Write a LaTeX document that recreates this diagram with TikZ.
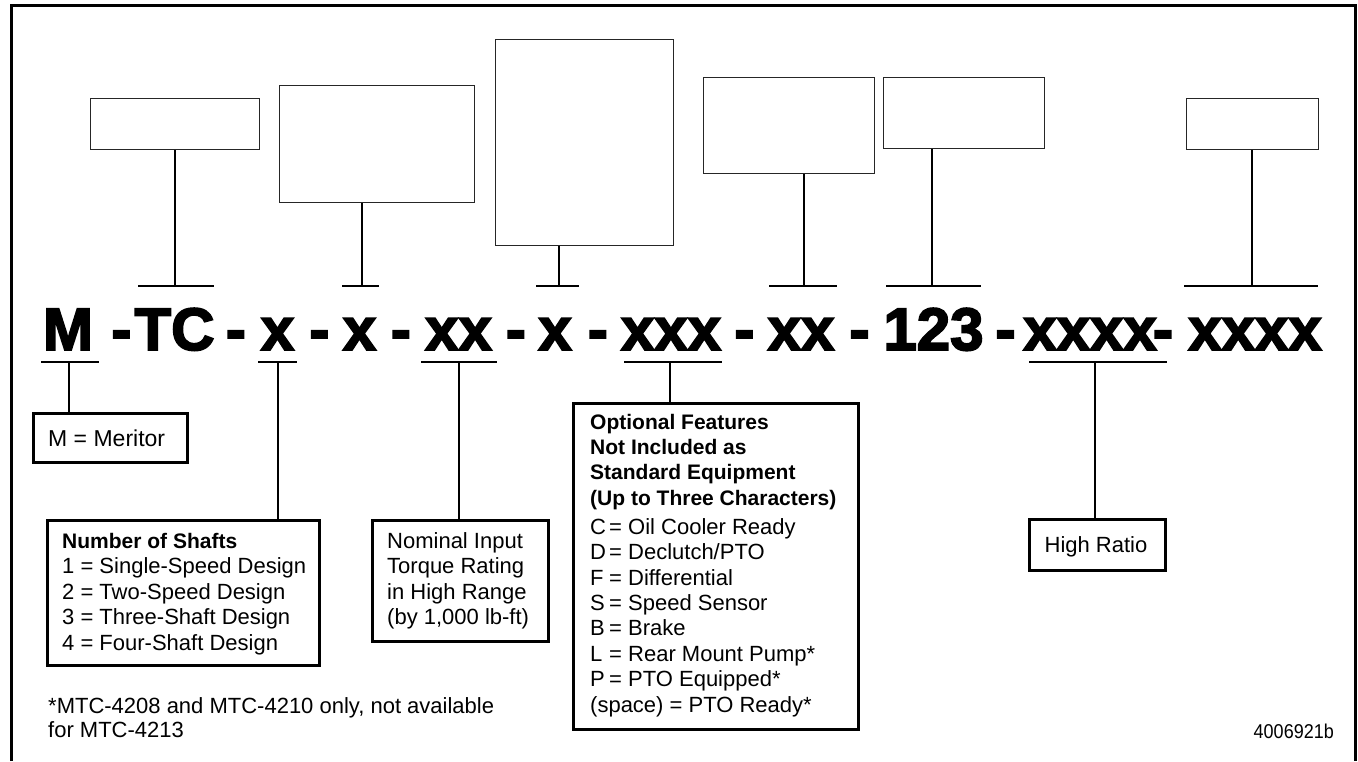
\documentclass[tikz,border=0pt]{standalone}
\usepackage{fontspec}
\setmainfont{Liberation Sans}
\newfontfamily\codefont{Liberation Sans}[BoldFeatures={FakeBold=3}]
\newcommand{\optl}[1]{\makebox[19pt][l]{#1}}
\begin{document}
\begin{tikzpicture}[x=1pt,y=-1pt,
  topbox/.style={draw=black!85, line width=1.3pt, inner sep=0pt, anchor=north west},
  botbox/.style={draw=black, line width=2.8pt, inner sep=0pt, anchor=north west},
  stem/.style={line width=2.6pt},
  bar/.style={line width=2.6pt},
  txt/.style={inner sep=0pt, font=\fontsize{22}{25.6}\selectfont},
  code/.style={inner sep=0pt, anchor=base, font=\codefont\bfseries\fontsize{60}{60}\selectfont}]
\useasboundingbox (0,0) rectangle (1358,761);
% frame (open at bottom)
\draw[line width=3pt] (11,761) -- (11,5) -- (1355,5) -- (1355,761);

% code string
\foreach \cx/\ct [count=\i] in {68/M, 121.5/-, 174.5/TC, 236/-, 277.5/x, 319.5/-, 359.5/x, 401/-, 458.5/xx, 516/-, 555/x, 598/-, 671/xxx, 744.5/-, 801/xx, 859.5/-, 933.5/123, 1005.5/-, 1090/xxxx, 1163/-, 1255/xxxx}
  \node[code] (c\i) at (\cx,350) {\ct};

% top boxes
\node[topbox, minimum width=169, minimum height=51] (b1) at (90,98) {};
\node[topbox, minimum width=195, minimum height=117] (b2) at (279,85) {};
\node[topbox, minimum width=178, minimum height=206] (b3) at (495,39) {};
\node[topbox, minimum width=171, minimum height=96] (b4) at (703,77) {};
\node[topbox, minimum width=161, minimum height=71] (b5) at (883,77) {};
\node[topbox, minimum width=132, minimum height=51] (b6) at (1186,98) {};

% top bars
\coordinate (t1) at (175,286);
\coordinate (t2) at (362,286);
\coordinate (t3) at (559,286);
\coordinate (t4) at (804,286);
\coordinate (t5) at (932,286);
\coordinate (t6) at (1252,286);
\draw[bar] (138,286) -- (214,286);
\draw[bar] (342,286) -- (379,286);
\draw[bar] (536,286) -- (579,286);
\draw[bar] (769,286) -- (837,286);
\draw[bar] (886,286) -- (981,286);
\draw[bar] (1184,286) -- (1318,286);
\foreach \k in {1,...,6}
  \draw[stem] (b\k.south -| t\k) -- (t\k);

% underline bars
\coordinate (u1) at (69,362);
\coordinate (u2) at (278,362);
\coordinate (u3) at (459,362);
\coordinate (u4) at (670,362);
\coordinate (u5) at (1095,362);
\draw[bar] (41,362) -- (99,362);
\draw[bar] (258,362) -- (297,362);
\draw[bar] (421,362) -- (497,362);
\draw[bar] (624,362) -- (722,362);
\draw[bar] (1029,362) -- (1167,362);

% bottom boxes
\node[botbox, minimum width=154, minimum height=49] (mer) at (32,412) {};
\node[botbox, minimum width=272, minimum height=145] (sha) at (46,519) {};
\node[botbox, minimum width=176, minimum height=121] (nom) at (371,519) {};
\node[botbox, minimum width=285, minimum height=326] (opt) at (572,402) {};
\node[botbox, minimum width=136, minimum height=51] (hr) at (1028,518) {};

\draw[stem] (u1) -- (u1 |- mer.north);
\draw[stem] (u2) -- (u2 |- sha.north);
\draw[stem] (u3) -- (u3 |- nom.north);
\draw[stem] (u4) -- (u4 |- opt.north);
\draw[stem] (u5) -- (u5 |- hr.north);

% texts
\node[txt, anchor=base west, font=\fontsize{23}{26}\selectfont] (tmer) at (48,446) {M = Meritor};
\node[txt, anchor=base west] (tsha) at (62,548) {\begin{tabular}[t]{@{}l@{}}
{\fontsize{21}{25.6}\selectfont\textbf{Number of Shafts}}\\
1 = Single-Speed Design\\
2 = Two-Speed Design\\
3 = Three-Shaft Design\\
4 = Four-Shaft Design\end{tabular}};
\node[txt, anchor=base west] (tnom) at (387,548) {\begin{tabular}[t]{@{}l@{}}
Nominal Input\\
Torque Rating\\
in High Range\\
(by 1,000 lb-ft)\end{tabular}};
\node[txt, anchor=base west, font=\fontsize{21}{25.4}\selectfont] (topt) at (590,429) {\begin{tabular}[t]{@{}l@{}}
\textbf{Optional Features}\\
\textbf{Not Included as}\\
\textbf{Standard Equipment}\\
\textbf{(Up to Three Characters)}\\[3.6pt]
\fontsize{22}{25.4}\selectfont\optl{C}= Oil Cooler Ready\\
\fontsize{22}{25.4}\selectfont\optl{D}= Declutch/PTO\\
\fontsize{22}{25.4}\selectfont\optl{F}= Differential\\
\fontsize{22}{25.4}\selectfont\optl{S}= Speed Sensor\\
\fontsize{22}{25.4}\selectfont\optl{B}= Brake\\
\fontsize{22}{25.4}\selectfont\optl{L}= Rear Mount Pump*\\
\fontsize{22}{25.4}\selectfont\optl{P}= PTO Equipped*\\
\fontsize{22}{25.4}\selectfont(space) = PTO Ready*\end{tabular}};
\node[txt, anchor=base] (thr) at (1096,552) {High Ratio};
\node[txt, anchor=base west, font=\fontsize{22}{24}\selectfont] (tfoot) at (48,713) {\begin{tabular}[t]{@{}l@{}}
*MTC-4208 and MTC-4210 only, not available\\
for MTC-4213\end{tabular}};
\node[txt, anchor=base east, font=\fontsize{20}{22}\selectfont] (tnum) at (1334,738) {\scalebox{0.9}[1]{4006921b}};
\end{tikzpicture}
\end{document}
